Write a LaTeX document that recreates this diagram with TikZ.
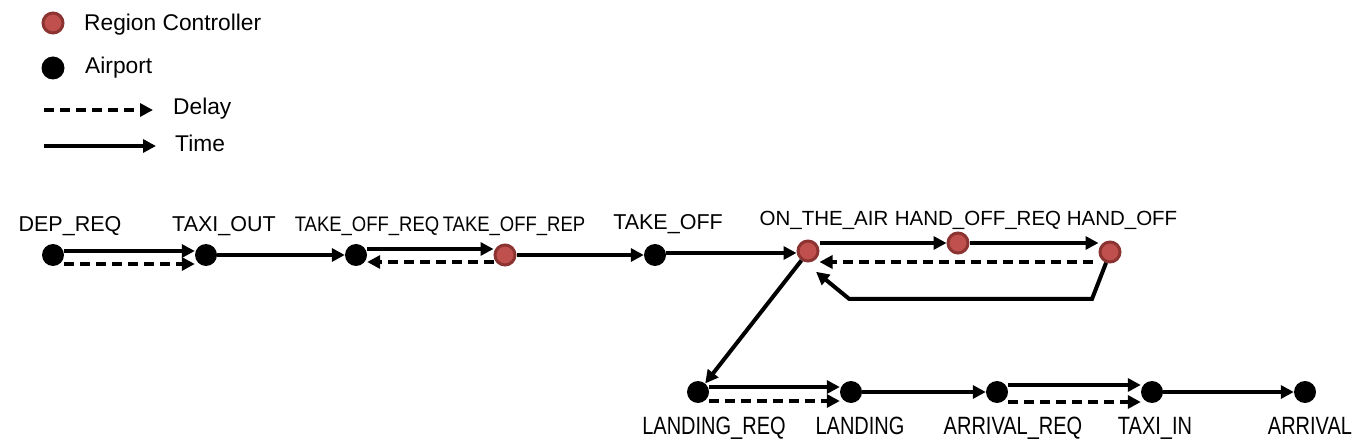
\documentclass[tikz,border=0pt]{standalone}
\usepackage{fontspec}
\setmainfont{Liberation Sans}
\newfontfamily\semifont[FakeStretch=0.88]{Liberation Sans}
\newfontfamily\narrowfont[FakeStretch=0.8]{Liberation Sans}
\usetikzlibrary{arrows.meta}
\definecolor{rcfill}{RGB}{192,80,77}
\definecolor{rcdraw}{RGB}{140,52,50}

\begin{document}
\begin{tikzpicture}[x=1pt,y=-1pt,
    airport/.style={circle,fill=black,inner sep=0pt,minimum size=22pt},
    region/.style={circle,fill=rcfill,draw=rcdraw,line width=3pt,inner sep=0pt,minimum size=20pt},
    timeln/.style={line width=4pt,-{Triangle[length=13pt,width=13pt]}},
    delayln/.style={timeln,dash pattern=on 10pt off 6pt},
    toplbl/.style={inner sep=0pt,anchor=base,font=\fontsize{21.5}{24}\selectfont},
    airlbl/.style={inner sep=0pt,anchor=base,font=\fontsize{20.5}{24}\selectfont},
    smalllbl/.style={inner sep=0pt,anchor=base,font=\semifont\fontsize{21}{24}\selectfont},
    botlbl/.style={inner sep=0pt,anchor=base,font=\narrowfont\fontsize{25}{28}\selectfont},
    leglbl/.style={inner sep=0pt,anchor=base west,font=\fontsize{22.75}{26}\selectfont}]
  \useasboundingbox (0,0) rectangle (1362,443);

  % legend
  \node[region,minimum size=20pt] (leg-rc) at (53,23) {};
  \node[airport,minimum size=23pt] (leg-ap) at (53,68) {};
  \coordinate (leg-d1) at (44,110);
  \coordinate (leg-d2) at (153,110);
  \coordinate (leg-t1) at (44,146);
  \coordinate (leg-t2) at (156,146);
  \draw[delayln] (leg-d1) -- (leg-d2);
  \draw[timeln] (leg-t1) -- (leg-t2);
  \node[leglbl] (leg-rc-l) at (84,31) {Region Controller};
  \node[leglbl] (leg-ap-l) at (85,74) {Airport};
  \node[leglbl] (leg-d-l) at (173,115) {Delay};
  \node[leglbl] (leg-t-l) at (175,152) {Time};

  % departure side
  \node[airport] (depreq) at (53,255) {};
  \node[airport] (taxiout) at (206,255) {};
  \node[airport] (toreq) at (356,255) {};
  \node[region] (torep) at (505,255) {};
  \node[airport] (takeoff) at (655,255) {};
  \node[region] (onair) at (808,251) {};
  \node[region] (handreq) at (958,243) {};
  \node[region] (handoff) at (1110,252) {};

  % arrival side
  \node[airport] (landreq) at (698,392) {};
  \node[airport] (landing) at (851,392) {};
  \node[airport] (arrreq) at (997,392) {};
  \node[airport] (taxiin) at (1152,392) {};
  \node[airport] (arrival) at (1305,392) {};

  % labels
  \node[toplbl] (depreq-l) at (70,232) {DEP\_REQ};
  \node[toplbl] (taxiout-l) at (224,232) {TAXI\_OUT};
  \node[smalllbl] (toreq-l) at (367,232) {TAKE\_OFF\_REQ};
  \node[smalllbl] (torep-l) at (514,232) {TAKE\_OFF\_REP};
  \node[toplbl] (takeoff-l) at (668,230) {TAKE\_OFF};
  \node[airlbl] (onair-l) at (824,226) {ON\_THE\_AIR};
  \node[airlbl] (handreq-l) at (978,226) {HAND\_OFF\_REQ};
  \node[airlbl] (handoff-l) at (1122,226) {HAND\_OFF};
  \node[botlbl] (landreq-l) at (714,434) {LANDING\_REQ};
  \node[botlbl] (landing-l) at (860,434) {LANDING};
  \node[botlbl] (arrreq-l) at (1013,434) {ARRIVAL\_REQ};
  \node[botlbl] (taxiin-l) at (1155,434) {TAXI\_IN};
  \node[botlbl] (arrival-l) at (1310,434) {ARRIVAL};

  % time and delay
  \draw[timeln] ([yshift=4pt]depreq.east) -- ([yshift=4pt]taxiout.west);
  \draw[delayln] ([yshift=-9pt]depreq.east) -- ([yshift=-9pt]taxiout.west);
  \draw[timeln] (taxiout) -- (toreq);
  \draw[timeln] ([yshift=6pt]toreq.east) -- ([yshift=6pt]torep.west);
  \draw[delayln] ([yshift=-7pt]torep.west) -- ([yshift=-7pt]toreq.east);
  \draw[timeln] (torep) -- (takeoff);
  \draw[timeln] ([yshift=2pt]takeoff.east) -- ([yshift=-2pt]onair.west);
  \draw[timeln] ([yshift=8pt]onair.east) -- (handreq);
  \draw[timeln] (handreq) -- ([yshift=9pt]handoff.west);
  \draw[delayln] ([xshift=-6pt,yshift=-10pt]handoff.west) -- ([yshift=-11pt]onair.east);
  \draw[timeln] (handoff.250) -- ++(-14,36) -- ++(-243,0) -- ++(-33,-27);
  \draw[timeln] (onair.235) -- (landreq.50);
  \draw[timeln] ([yshift=5pt]landreq.east) -- ([yshift=5pt]landing.west);
  \draw[delayln] ([yshift=-9pt]landreq.east) -- ([yshift=-9pt]landing.west);
  \draw[timeln] (landing) -- (arrreq);
  \draw[timeln] ([yshift=7pt]arrreq.east) -- ([yshift=7pt]taxiin.west);
  \draw[delayln] ([yshift=-10pt]arrreq.east) -- ([yshift=-10pt]taxiin.west);
  \draw[timeln] (taxiin) -- (arrival);
\end{tikzpicture}
\end{document}
